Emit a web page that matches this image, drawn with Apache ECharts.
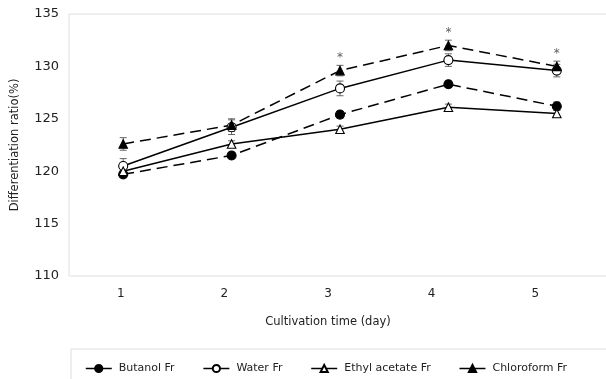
<!DOCTYPE html>
<html>
<head>
<meta charset="utf-8">
<script src="https://cdn.jsdelivr.net/npm/echarts@6/dist/echarts.min.js"></script>
<style>
  html, body { margin: 0; padding: 0; background: #fff; }
  #chart { width: 606px; height: 379px; }
</style>
</head>
<body>
<div id="chart"></div>
<script>
// values
const days = ['1', '2', '3', '4', '5'];
const butanol = [119.7, 121.5, 125.4, 128.3, 126.2];
const butanolErr = [0.3, 0.3, 0.3, 0.3, 0.4];
const water = [120.5, 124.2, 127.9, 130.6, 129.6];
const waterErr = [0.7, 0.7, 0.7, 0.6, 0.6];
const ethyl = [120.0, 122.6, 124.0, 126.1, 125.5];
const ethylErr = [0.3, 0.3, 0.3, 0.3, 0.3];
const chloroform = [122.6, 124.4, 129.6, 132.0, 130.0];
const chloroformErr = [0.6, 0.6, 0.5, 0.5, 0.5];
const starDays = [2, 3, 4]; // day 3, 4, 5 (index)

const font = 'DejaVu Sans, Verdana, sans-serif';

function errData(vals, errs) {
  return vals.map((v, i) => [i, v - errs[i], v + errs[i]]);
}

function errSeries(vals, errs) {
  return {
    type: 'custom',
    silent: true,
    z: 1,
    renderItem: function (params, api) {
      const x = api.value(0);
      const lo = api.coord([x, api.value(1)]);
      const hi = api.coord([x, api.value(2)]);
      const w = 3.5;
      const st = { stroke: '#666', lineWidth: 1 };
      return {
        type: 'group',
        children: [
          { type: 'line', shape: { x1: lo[0], y1: lo[1], x2: hi[0], y2: hi[1] }, style: st },
          { type: 'line', shape: { x1: lo[0] - w, y1: lo[1], x2: lo[0] + w, y2: lo[1] }, style: st },
          { type: 'line', shape: { x1: hi[0] - w, y1: hi[1], x2: hi[0] + w, y2: hi[1] }, style: st }
        ]
      };
    },
    data: errData(vals, errs)
  };
}

function lineSeries(name, data, dashed, symbol, filled) {
  return {
    name: name,
    type: 'line',
    data: data,
    z: 3,
    symbol: symbol,
    symbolSize: symbol === 'triangle' ? 8.5 : 9,
    showAllSymbol: true,
    lineStyle: { color: '#000', width: 1.5, type: dashed ? [11, 6] : 'solid' },
    itemStyle: { color: filled ? '#000' : '#fff', borderColor: '#000', borderWidth: 1.1 }
  };
}

const chart = echarts.init(document.getElementById('chart'));
chart.setOption({
  animation: false,
  grid: [
    { left: 69, top: 14, width: 542, height: 262, outerBoundsMode: 'none', show: true, borderColor: '#dedede', borderWidth: 1, backgroundColor: 'transparent' },
    { left: 69, top: 14, width: 518, height: 262, outerBoundsMode: 'none', show: false }
  ],
  xAxis: [
    {
      type: 'category', data: days, gridIndex: 0,
      axisLine: { show: false }, axisTick: { show: false }, axisLabel: { show: false }
    },
    {
      type: 'category', data: days, gridIndex: 1,
      axisLine: { show: false }, axisTick: { show: false },
      axisLabel: { fontFamily: font, fontSize: 12, color: '#222', margin: 12 },
      name: 'Cultivation time (day)', nameLocation: 'middle', nameGap: 40,
      nameTextStyle: { fontFamily: font, fontSize: 11.5, color: '#222' }
    }
  ],
  yAxis: [
    {
      type: 'value', min: 110, max: 135, interval: 5, gridIndex: 0,
      axisLine: { show: false }, axisTick: { show: false }, splitLine: { show: false },
      axisLabel: { fontFamily: font, fontSize: 13, color: '#222', margin: 10 },
      name: 'Differentiation ratio(%)', nameLocation: 'middle', nameGap: 48, nameRotate: 90,
      nameTextStyle: { fontFamily: font, fontSize: 11.5, color: '#222' }
    },
    { type: 'value', min: 110, max: 135, gridIndex: 1, show: false }
  ],
  legend: {
    left: 80, top: 358,
    itemWidth: 26, itemHeight: 9, itemGap: 28,
    lineStyle: { type: 'solid', width: 1.5 },
    textStyle: { fontFamily: font, fontSize: 11, color: '#222', padding: [0, 0, 0, 2] },
    data: ['Butanol Fr', 'Water Fr', 'Ethyl acetate Fr', 'Chloroform Fr']
  },
  graphic: [
    { type: 'rect', shape: { x: 71, y: 349, width: 560, height: 60 }, style: { fill: 'none', stroke: '#dedede', lineWidth: 1 } }
  ],
  series: [
    errSeries(butanol, butanolErr),
    errSeries(water, waterErr),
    errSeries(ethyl, ethylErr),
    errSeries(chloroform, chloroformErr),
    lineSeries('Butanol Fr', butanol, true, 'circle', true),
    lineSeries('Water Fr', water, false, 'circle', false),
    lineSeries('Ethyl acetate Fr', ethyl, false, 'triangle', false),
    lineSeries('Chloroform Fr', chloroform, true, 'triangle', true),
    {
      type: 'scatter', symbolSize: 0, silent: true, z: 4,
      label: { show: true, position: 'top', distance: 1, formatter: '*', fontFamily: font, fontSize: 12, color: '#333' },
      data: starDays.map(i => [i, chloroform[i] + chloroformErr[i]])
    }
  ]
});
</script>
</body>
</html>
